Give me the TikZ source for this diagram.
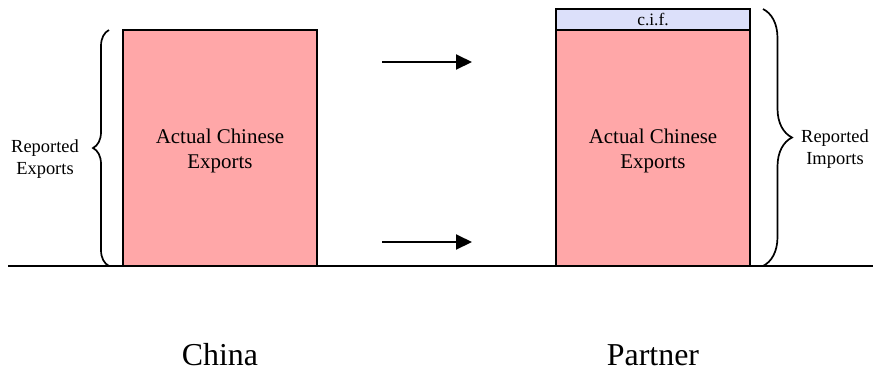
\documentclass[tikz,border=0pt]{standalone}
\usepackage{fontspec}
\setmainfont{Liberation Serif}
\usetikzlibrary{decorations.pathreplacing,arrows.meta}
\definecolor{exportpink}{HTML}{FFA7A8}
\definecolor{ciflilac}{HTML}{DCE0FA}
\begin{document}
\begin{tikzpicture}[x=1bp,y=-1bp,
  bar/.style={draw=black,line width=2bp,fill=exportpink,minimum width=194bp,
    minimum height=236bp,inner sep=0pt,outer sep=0pt,anchor=north west},
  bartext/.style={align=center,inner sep=0pt,font=\fontsize{21}{25.5}\selectfont},
  cifbar/.style={draw=black,line width=2bp,fill=ciflilac,minimum width=194bp,
    minimum height=21bp,inner sep=0pt,outer sep=0pt,anchor=north west,
    font=\fontsize{17.5}{20}\selectfont},
  flow/.style={line width=2bp,-{Triangle[length=16bp,width=15bp]}},
  bracket/.style={line width=1.7bp,decorate,decoration={brace,amplitude=#1}},
  sidelabel/.style={align=center,font=\fontsize{18.5}{22}\selectfont,inner sep=0pt},
  country/.style={font=\fontsize{32}{36}\selectfont,inner sep=0pt}]
  \useasboundingbox (0,0) rectangle (873,374);

  % ground line
  \coordinate (g0) at (8,266);
  \coordinate (g1) at (873,266);
  \draw[line width=2bp] (g0) -- (g1);

  % China side
  \node[bar] (chinabar) at (123,30) {};
  \node[bartext] (chinatext) at ([yshift=-3bp]chinabar.center) {Actual Chinese\\Exports};
  \coordinate (lb0) at (109,266);
  \coordinate (lb1) at (109,30);
  \draw[bracket=16bp] (lb0) -- (lb1);
  \node[sidelabel] (explabel) at (45,159) {Reported\\Exports};
  \node[country] (china) at (220,355) {China};

  % arrows
  \coordinate (a0) at (382,62);
  \coordinate (a1) at (472,62);
  \coordinate (b0) at (382,242);
  \coordinate (b1) at (472,242);
  \draw[flow] (a0) -- (a1);
  \draw[flow] (b0) -- (b1);

  % Partner side
  \node[bar] (partnerbar) at (556,30) {};
  \node[bartext] (partnertext) at ([yshift=-3bp]partnerbar.center) {Actual Chinese\\Exports};
  \node[cifbar] (cif) at (556,9) {c.i.f.};
  \coordinate (rb0) at (763,9);
  \coordinate (rb1) at (763,266);
  \draw[bracket=29bp] (rb0) -- (rb1);
  \node[sidelabel] (implabel) at (835,149) {Reported\\Imports};
  \node[country] (partner) at (653,355) {Partner};
\end{tikzpicture}
\end{document}
